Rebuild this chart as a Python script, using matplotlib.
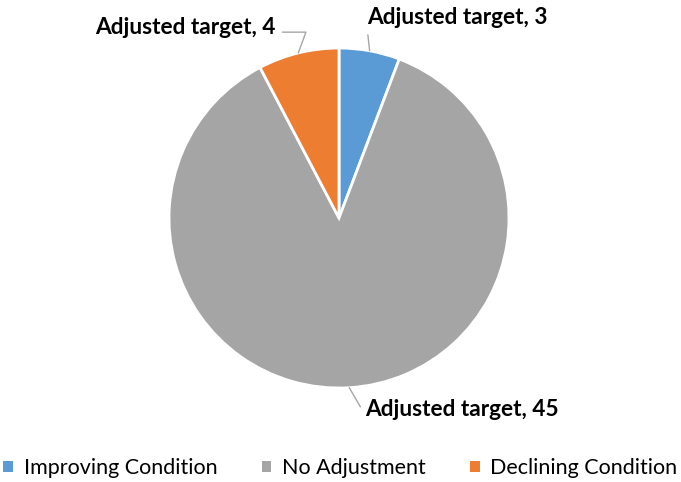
import numpy as np
import matplotlib.pyplot as plt
from matplotlib.patches import Patch

categories = ["Improving Condition", "No Adjustment", "Declining Condition"]
values = [3, 45, 4]
labels = ["Adjusted target, 3", "Adjusted target, 45", "Adjusted target, 4"]
colors = ["#5B9BD5", "#A5A5A5", "#ED7D31"]

W, H = 681, 482
fig = plt.figure(figsize=(W / 100, H / 100), dpi=100)
cx, cy, r = 339, 218, 170
ax = fig.add_axes([(cx - r) / W, (H - cy - r) / H, 2 * r / W, 2 * r / H])

wedges, _ = ax.pie(values, colors=colors, startangle=90, counterclock=False,
                   radius=1, wedgeprops=dict(edgecolor="white", linewidth=2))
ax.set_xlim(-1, 1)
ax.set_ylim(-1, 1)
ax.set_aspect("equal")
ax.axis("off")

# text offsets (points) from the wedge edge, alignment, where the leader meets the text
offsets = [(-2, 24), (11.5, -16), (-16.5, 18)]
aligns = ["left", "left", "right"]
relpos = [(0.0, 0.1), (0.0, 0.25), (1.0, 0.3)]
conns = ["arc3", "arc3", "angle,angleA=0,angleB=70,rad=0"]
for w, lab, off, ha, rp, cs in zip(wedges, labels, offsets, aligns, relpos, conns):
    ang = np.deg2rad((w.theta1 + w.theta2) / 2)
    x, y = np.cos(ang), np.sin(ang)
    ax.annotate(lab, xy=(x, y), xytext=off, textcoords="offset points",
                ha=ha, va="center", fontsize=16.3, fontweight="bold",
                family="Lato",
                arrowprops=dict(arrowstyle="-", color="#A6A6A6", lw=1,
                                shrinkA=3, shrinkB=0, relpos=rp,
                                connectionstyle=cs))

handles = [Patch(facecolor=c, edgecolor="none") for c in colors]
fig.legend(handles, categories, loc="center", bbox_to_anchor=(0.5, 1 - 468 / H),
           ncol=3, frameon=False, prop=dict(family="Lato", size=15.5),
           handlelength=0.45, handleheight=0.45, handletextpad=0.5,
           columnspacing=2.05, borderpad=0)

fig.savefig("out.png", dpi=100)
